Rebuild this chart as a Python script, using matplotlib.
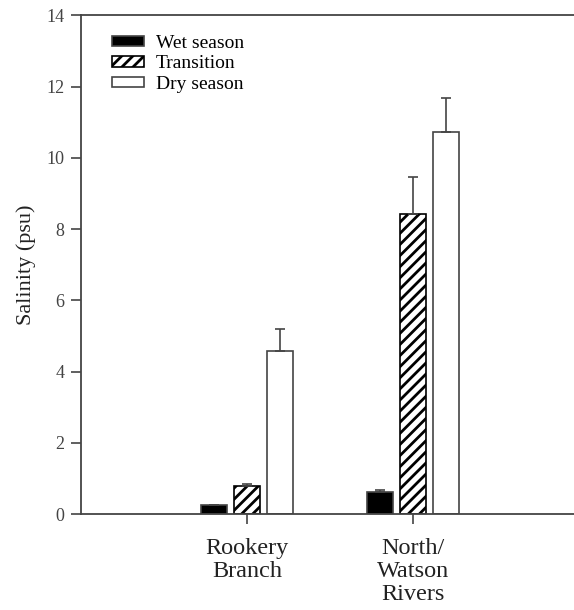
import numpy as np
import matplotlib.pyplot as plt

plt.rcParams['font.family'] = ['Liberation Serif', 'DejaVu Serif']
plt.rcParams['hatch.linewidth'] = 2.0

SITES = ["Rookery\nBranch", "North/\nWatson\nRivers"]
SEASONS = ["Wet season", "Transition", "Dry season"]
# means and upper error (SE)
MEANS = {
    "Wet season": [0.25, 0.62],
    "Transition": [0.78, 8.42],
    "Dry season": [4.57, 10.72],
}
ERRS = {
    "Wet season": [0.0, 0.07],
    "Transition": [0.07, 1.03],
    "Dry season": [0.62, 0.97],
}

EDGE = "#444444"
styles = {
    "Wet season": dict(color="black", hatch=None),
    "Transition": dict(color="white", hatch="///"),
    "Dry season": dict(color="white", hatch=None),
}

fig = plt.figure(figsize=(5.74, 6.10), dpi=100)
ax = fig.add_axes([0.141, 0.157, 0.859, 0.818])

x = np.arange(len(SITES))
width = 0.157
offsets = [-0.2, 0.0, 0.2]
for season, off in zip(SEASONS, offsets):
    st = styles[season]
    ax.bar(x + off, MEANS[season], width, color=st["color"], hatch=st["hatch"],
           edgecolor=EDGE if season != "Transition" else "black", linewidth=1.2,
           label=season, zorder=2)
    ax.errorbar(x + off, MEANS[season], yerr=[np.zeros(len(SITES)), ERRS[season]],
                fmt="none", ecolor=EDGE, elinewidth=1.2, capsize=3.6, capthick=1.2,
                zorder=3)

ax.set_xlim(-1.0, 1.97)
ax.set_ylim(0, 14)
ax.set_yticks(np.arange(0, 15, 2))
ax.set_xticks(x)
ax.set_xticklabels(SITES, fontsize=17.5, linespacing=1.13)
ax.tick_params(axis="y", labelsize=13, labelcolor="#444444", color=EDGE,
               length=7, width=1.2, direction="out", pad=5)
ax.tick_params(axis="x", color=EDGE, length=7, width=1.2, pad=10,
               labelcolor="#222222")
for side in ["left", "top", "bottom"]:
    ax.spines[side].set_color(EDGE)
    ax.spines[side].set_linewidth(1.3)
ax.spines["right"].set_visible(False)

ax.set_ylabel("Salinity (psu)", fontsize=16, color="#222222", labelpad=7)

ax.legend(loc="upper left", bbox_to_anchor=(0.036, 0.988), frameon=False,
          fontsize=14, handlelength=1.65, handleheight=0.45, labelspacing=0.18,
          handletextpad=0.6, borderaxespad=0.3)

fig.savefig("out.png", dpi=100)
